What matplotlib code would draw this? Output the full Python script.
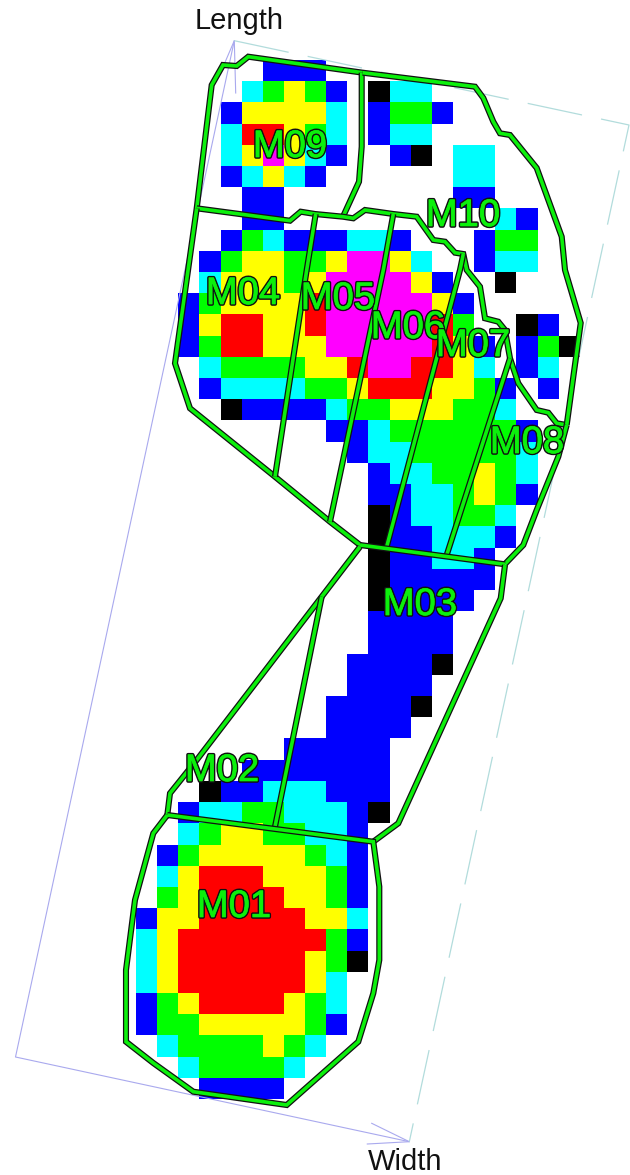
import numpy as np
import matplotlib
matplotlib.use('Agg')
import matplotlib.pyplot as plt
import matplotlib.patheffects as pe
from matplotlib.colors import ListedColormap

plt.rcParams['font.family'] = ['Liberation Sans', 'DejaVu Sans']
plt.rcParams['lines.scale_dashes'] = False

# sensor grid, one string per row, one letter per cell
rows = [
    "......bbb",
    ".....cgygb.kcc",
    "....byyyyc.bggb",
    "....crrygc.bcc",
    "....cymycb..bk.cc",
    "....bcycb......cc",
    ".....bb........bb",
    ".....bb..........cb",
    "....bgcbbbccb...bgg",
    "...bgyyggymmyc..bcc",
    "...cyyygymmmmyb..k",
    "..bgyyyyrmmmmmyb",
    "..byrryyrmmmmmrg..kb",
    "..bgrryyymmmmmryb.bgk",
    "...cggggyyrmmrryc.bc",
    "...bccccggyrrryygb.b",
    "....kbbbbcggyyyggc",
    ".........bbcggggggb",
    "..........bccgggggc",
    "...........bccggygc",
    "...........bbccgygb",
    "...........kbccggc",
    "...........kbbcccb",
    "...........kbbccb",
    "...........kbbbbb",
    "...........kbbbb",
    "...........bbbb",
    "...........bbbb",
    "..........bbbbk",
    "..........bbbb",
    ".........bbbbk",
    ".........bbbb",
    ".......bbbbb",
    ".....bbbbbbb",
    "...kbbcccbbb",
    "..bccggcccbk",
    "..cgyyggccb",
    ".bgyyyyygcb",
    ".cyrrryyygb",
    ".gyrrrryygb",
    "byyrrrrryyc",
    "cyrrrrrrrgb",
    "cyrrrrrrygk",
    "cyrrrrrryc",
    "bgyrrrrygc",
    "bggyyyyygb",
    ".cggggygc",
    "..cggggc",
    "...bbbb",
]
codes = ".bcgyrmk"
cell_colors = ['#ffffff', '#0000ff', '#00ffff', '#00ff00', '#ffff00', '#ff0000', '#ff00ff', '#000000']

grid_x0 = 136.0
grid_y0 = 60.7
cell_w = 21.13
cell_h = 21.2

# mask outlines, picture pixels
m09_outer = [(196.7, 208.3), (211.7, 85), (223, 65), (236.7, 66), (248.3, 56.7), (362.7, 72.7)]
m09_right = [(361.7, 72.7), (361.7, 146.7), (359, 181.7), (343.3, 216)]
fore_top = [(196.7, 208.3), (290, 220.7), (300.7, 211.7), (315, 214), (343, 216.7), (353.3, 218.3),
            (365, 210), (393.3, 214), (416.7, 216.7), (433.3, 240), (445, 241.7), (455, 252.7),
            (463.3, 254), (466.7, 270), (480, 286.7), (485, 318.3), (498.3, 321.7), (505, 330),
            (510, 358.3), (518.3, 383.3), (536.7, 410), (548.3, 412.7), (556.7, 423.3), (566.7, 425)]
m10_outer = [(362.7, 72.7), (475, 86.7), (483.3, 98), (493.3, 121.7), (500, 133.3), (510, 135),
             (536.7, 168), (561.7, 236.7), (565, 270), (580.7, 323), (566.7, 425)]
m08_right = [(566.7, 425), (558.3, 456.7), (536.7, 510), (523.3, 545), (505, 564)]
m04_left = [(196.7, 208.3), (175, 363.3), (190, 408.3), (275, 476.7), (330, 521.7), (360, 545)]
div_m04_m05 = [(315.7, 214), (306.7, 270), (275, 476.7)]
div_m05_m06 = [(393.3, 214), (383.3, 270), (330, 521.7)]
div_m06_m07 = [(463.3, 254), (460, 270), (386.7, 546.7)]
div_m07_m08 = [(510, 358.3), (446.7, 555)]
m03_top = [(360, 545), (505, 564.3)]
m03_right = [(505, 565), (500.7, 598.3), (398.3, 823.3), (373.3, 841.7)]
m02_left = [(360, 546.7), (321.7, 596.7), (196.7, 760), (170, 793.3), (167.3, 815)]
div_m02_m03 = [(321.7, 596.7), (275, 826.7)]
m01_outline = [(167.3, 815), (153.3, 833.3), (135, 900), (126, 970), (126, 1041.7), (153.3, 1063),
               (193.3, 1091.7), (286.7, 1105), (358.3, 1041.7), (373.3, 993.3), (379.3, 960),
               (379.3, 886.7), (373.3, 841.7), (167.3, 815)]
outlines = [m09_outer, m09_right, fore_top, m10_outer, m08_right, m04_left, div_m04_m05, div_m05_m06,
            div_m06_m07, div_m07_m08, m03_top, m03_right, m02_left, div_m02_m03, m01_outline]

mask_names = ['M01', 'M02', 'M03', 'M04', 'M05', 'M06', 'M07', 'M08', 'M09', 'M10']
mask_x = [234, 222, 420, 243, 338, 408, 473, 527, 290, 463]
mask_y = [907, 771, 605, 294, 299, 328, 346, 443, 147, 216]

# foot box and its two axis arrows
box_solid = [(234.3, 40.7), (15.5, 1057), (409.3, 1141.7)]
box_dashed = [(234.3, 40.7), (629, 125), (409.3, 1141.7)]
length_arrow = [(223, 67), (234.3, 40.7), (235.7, 93)]
width_arrow = [(371.7, 1123.3), (409.3, 1141.7), (367.3, 1144)]

fig = plt.figure(figsize=(6.3, 11.75), dpi=100)
ax = fig.add_axes([0, 0, 1, 1])

values = np.array([[codes.index(c) for c in r.ljust(22, '.')] for r in rows])
ax.imshow(values, cmap=ListedColormap(cell_colors), vmin=0, vmax=7, interpolation='nearest', aspect='auto',
          extent=(grid_x0, grid_x0 + 22 * cell_w, grid_y0 + len(rows) * cell_h, grid_y0), zorder=1)

blue_line = '#a9a9ee'
teal_line = '#b2dcdc'
ax.plot(*zip(*box_solid), color=blue_line, lw=0.8, zorder=2)
ax.plot(*zip(*length_arrow), color=blue_line, lw=0.8, zorder=2)
ax.plot(*zip(*width_arrow), color=blue_line, lw=0.8, zorder=2)
ax.plot(*zip(*box_dashed), color=teal_line, lw=0.9, linestyle=(0, (40, 14)), zorder=2)

green = '#0cf00c'
for line in outlines:
    ax.plot(*zip(*line), color=green, lw=2.6, solid_joinstyle='miter', solid_capstyle='butt', zorder=3,
            path_effects=[pe.withStroke(linewidth=4.4, foreground='#111111')])

for name, x, y in zip(mask_names, mask_x, mask_y):
    ax.text(x, y, name, color=green, fontsize=27.5, ha='center', va='center', zorder=4,
            path_effects=[pe.Stroke(linewidth=2.6, foreground='#111111'),
                          pe.Stroke(linewidth=0.5, foreground=green), pe.Normal()])

ax.text(239, 21, 'Length', color='#111111', fontsize=21, ha='center', va='center')
ax.text(405, 1162, 'Width', color='#111111', fontsize=21, ha='center', va='center')

ax.set_xlim(0, 630)
ax.set_ylim(1175, 0)
ax.axis('off')

fig.savefig('out.png', dpi=100)
